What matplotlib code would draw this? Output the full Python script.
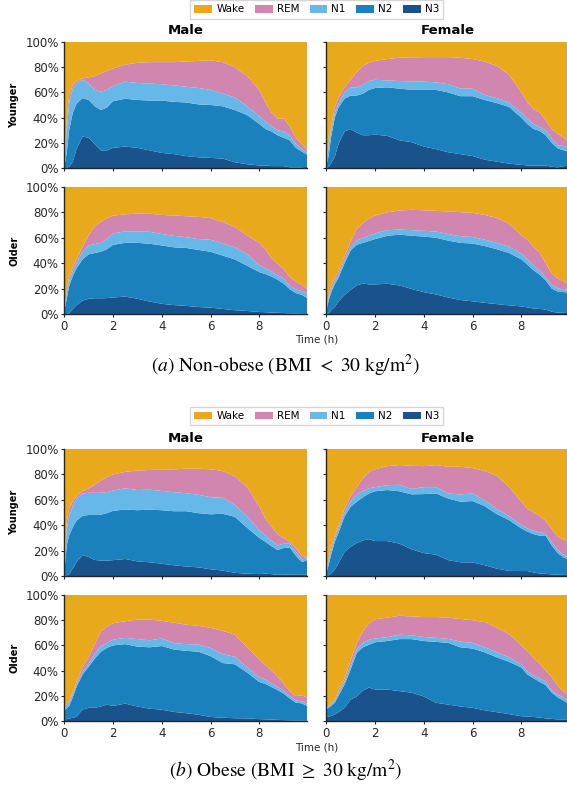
import matplotlib
matplotlib.use("Agg")
import matplotlib.pyplot as plt
from matplotlib.patches import Patch
from matplotlib.ticker import FuncFormatter

# time since lights off (hours)
hours = [0, 0.1, 0.2, 0.35, 0.5, 0.75, 1.0, 1.25, 1.5, 1.75, 2.0, 2.5, 3.0, 3.5, 4.0, 4.5,
         5.0, 5.5, 6.0, 6.5, 7.0, 7.5, 8.0, 8.25, 8.5, 8.75, 9.0, 9.25, 9.5, 9.75, 9.97]

stages = ["N3", "N2", "N1", "REM", "Wake"]
colors = {"Wake": "#E8A91C", "REM": "#D086AE", "N1": "#66B8E8", "N2": "#1B81BD", "N3": "#1A528B"}

# (a) non-obese -- percent of subjects in each stage
a_male_younger = {
    "N3":   [0, 0, 1, 5, 15, 25, 24, 19, 14, 14, 16, 17, 16, 14, 12, 11, 9.5, 8.5, 8, 7.5, 4.5, 3, 2, 2, 1.5, 1.5, 1.5, 0.5, 0.5, 0.5, 1],
    "N2":   [1, 12, 29, 39, 36, 30.5, 30, 30, 32, 34, 37, 38, 38, 39.5, 41.5, 41.5, 42.5, 42, 42, 41.5, 41.5, 39, 33, 29, 27.5, 24.5, 22.5, 21.5, 15.5, 12.5, 9.5],
    "N1":   [2, 18, 22, 19, 16, 14.5, 13, 13, 14.5, 14, 12, 13.5, 13.5, 13.5, 13, 13, 12.5, 13, 12, 10, 10, 7, 6, 6, 4, 4, 5, 4, 3, 2, 1.5],
    "REM":  [2, 8, 6, 3, 2, 1, 5, 11, 14.5, 15, 14, 13.5, 16, 17, 17.5, 18.5, 20, 21.5, 23.5, 25, 24, 24, 21, 15, 11, 9, 10.5, 7, 5, 4, 2],
    "Wake": [95, 62, 42, 34, 31, 29, 28, 27, 25, 23, 21, 18, 16.5, 16, 16, 16, 15.5, 15, 14.5, 16, 20, 27, 38, 48, 56, 61, 60.5, 67, 76, 81, 86],
}
a_female_younger = {
    "N3":   [0, 1, 4, 9, 19, 29, 31, 28, 26, 26, 26.5, 25.5, 22, 20.5, 17, 15, 12.5, 11, 9.5, 6.6, 5, 3.5, 2.5, 2, 2, 2, 2, 1, 0.5, 1.5, 2],
    "N2":   [2, 9, 21, 31, 29, 26, 26.5, 29.5, 33, 36, 37, 38.5, 41, 41.5, 45, 47, 47.5, 46, 47.5, 47.4, 46.5, 45, 37.5, 33, 29, 27.5, 24, 19, 15, 12.5, 10.5],
    "N1":   [1, 8, 5, 4, 3, 5, 6.5, 6.5, 7, 7, 6.5, 5.5, 6, 6.8, 6.5, 6, 6.5, 6, 6, 4, 4, 3.5, 4, 4, 4, 3, 4, 3, 2.5, 3.5, 3],
    "REM":  [2, 2, 3, 4, 5, 4, 6, 12, 15, 14.5, 15, 17, 18.5, 19, 19.5, 20, 21.5, 24.5, 23.5, 26.5, 25.5, 22, 16, 13, 12, 11.5, 8, 8, 9, 6.5, 3.5],
    "Wake": [95, 80, 67, 52, 44, 36, 30, 24, 19, 16.5, 15, 13.5, 12.5, 12.2, 12, 12, 12, 12.5, 13.5, 15.5, 19, 26, 40, 48, 53, 56, 62, 69, 73, 76, 81],
}
a_male_older = {
    "N3":   [0, 0, 0.5, 4, 7, 10.5, 12, 12.4, 12.4, 12.5, 13, 13.7, 12, 9.8, 8, 7, 6.4, 5.5, 5, 4, 3, 2.4, 1.6, 1.4, 1.1, 1, 0.7, 0.5, 0.3, 0.1, 0],
    "N2":   [2, 12, 21.5, 26, 29, 32.5, 35, 35.6, 36.6, 38.5, 41.5, 42.3, 44, 45.5, 46, 45.5, 45.6, 45, 44, 42, 40, 35.6, 31.4, 30.1, 28.4, 26, 23.3, 19, 16.2, 14.9, 12.5],
    "N1":   [1, 5, 4, 4, 4, 6, 7, 7, 7, 8, 9, 9, 9, 9.4, 9, 9, 8.5, 8.5, 9.5, 9.5, 9.5, 9, 5.5, 4.5, 4, 3.5, 4, 2.5, 3, 3, 3.5],
    "REM":  [1, 2, 3, 3, 3, 4, 8, 14, 16.5, 16.5, 14, 13.5, 14, 14.3, 15, 16, 16.5, 17.5, 17, 17, 16, 15, 17.5, 15, 10.5, 9, 7.5, 7, 6, 5, 3.5],
    "Wake": [96, 81, 71, 63, 57, 47, 38, 31, 27.5, 24.5, 22.5, 21.5, 21, 21, 22, 22.5, 23, 23.5, 24.5, 27.5, 31.5, 38, 44, 49, 56, 60.5, 64.5, 71, 74.5, 77, 80.5],
}
a_female_older = {
    "N3":   [0, 0.5, 3, 5.5, 10, 15, 19, 22.5, 24, 23.3, 23.3, 23.8, 22.5, 19.7, 17.2, 15.4, 13, 11, 10, 8.8, 7.8, 6.8, 6, 5.2, 4.3, 4, 3.5, 1.8, 1, 1.3, 1.8],
    "N2":   [2, 10.5, 14, 18, 18.5, 25, 31, 32, 32, 34.2, 35.7, 37.7, 40, 41.9, 43.8, 44.6, 44.8, 45, 45.5, 44.7, 43.2, 41.2, 37, 33.8, 30.2, 27, 23, 18.2, 16.7, 15.9, 15],
    "N1":   [1, 2, 2.5, 2.5, 2.5, 2.5, 3, 3.5, 3.7, 4.2, 4.5, 4.5, 4, 4.4, 4.5, 5, 5.2, 5.2, 5.2, 5, 5, 5, 4.5, 4, 4, 3, 2.5, 3, 2.5, 2.3, 2.2],
    "REM":  [1, 2, 2.5, 2.5, 2.5, 3, 4, 9, 11.9, 13.3, 14, 14, 15, 16, 16.2, 16.2, 17.8, 19, 19, 19.5, 19.7, 18, 14.5, 15.5, 14.5, 14.5, 11, 9, 7.8, 6, 4],
    "Wake": [96, 85, 78, 71.5, 66.5, 54.5, 43, 33, 28.4, 25, 22.5, 20, 18.5, 18, 18.3, 18.8, 19.2, 19.8, 20.3, 22, 24.3, 29, 38, 41.5, 47, 51.5, 60, 68, 72, 74.5, 77],
}

# (b) obese
b_male_younger = {
    "N3":   [0, 0.5, 1.5, 6, 11, 16.5, 15, 12.6, 12.2, 12, 12.5, 13.4, 11.5, 10.8, 9.7, 8.4, 7.5, 6.8, 5.3, 4.3, 2.5, 1.8, 1.5, 1.8, 1.5, 0.9, 1, 1.3, 1.3, 1.3, 1.3],
    "N2":   [3, 23.5, 30.5, 32.5, 32.5, 31, 33, 35.4, 36.1, 37.5, 38.8, 39, 40.3, 41.4, 42.1, 42.6, 43.5, 42.7, 43.3, 44.7, 44.1, 36.2, 28.5, 25.2, 22, 19.6, 21, 21.2, 14.7, 9.7, 11.3],
    "N1":   [2, 13, 15, 16.5, 17.5, 17.5, 17.5, 17.5, 17.2, 16.5, 16, 16.6, 15.9, 15.8, 15.2, 15, 14.2, 14.5, 13.4, 12.6, 9.2, 9, 6, 5, 4.5, 3.5, 3.5, 3, 3, 2, 1.4],
    "REM":  [1, 6, 6, 4, 2, 2, 3.5, 6.5, 9.5, 12, 12.7, 13, 15.3, 15.5, 16.7, 18, 19.3, 20.5, 22, 21.1, 22.6, 23, 19, 13, 11, 9, 4.5, 1.5, 3, 3, 0.5],
    "Wake": [94, 57, 47, 41, 37, 33, 31, 28, 25, 22, 20, 18, 17, 16.5, 16.3, 16, 15.5, 15.5, 16, 17.3, 21.6, 30, 45, 55, 61, 67, 70, 73, 78, 84, 85.5],
}
b_female_younger = {
    "N3":   [0, 0.5, 2, 5, 10, 19, 23, 26, 28, 29, 27.5, 27.5, 25.5, 21, 18, 16.8, 12.5, 10.8, 10.7, 8.5, 5.8, 4, 3.9, 3.9, 2.8, 2, 1.7, 1.3, 1, 0.9, 0.8],
    "N2":   [2, 8.5, 15, 22, 24, 28, 31.5, 32.5, 34, 36, 39.2, 40.2, 41.2, 43.3, 46.5, 48.2, 48.5, 47.7, 48.3, 46.5, 42.9, 40, 33.6, 31.1, 30.2, 29.8, 30.1, 22.7, 17, 13.6, 11.8],
    "N1":   [1, 3, 3, 3, 3, 3, 4.5, 5.5, 5, 4, 3.3, 3.8, 5.1, 4.2, 5.5, 5, 4, 5.7, 6, 4.5, 4, 3.2, 2.8, 2.5, 2.7, 2.6, 2, 2.5, 2.5, 2, 1.8],
    "REM":  [1, 2, 3, 2, 2, 3, 4, 6, 10, 13, 14, 15, 15.6, 18.3, 16.5, 17.3, 21, 21.8, 20, 23.2, 26.1, 22.8, 18.2, 15.5, 14.3, 13.1, 9.7, 10.5, 10.5, 12, 12.6],
    "Wake": [96, 86, 77, 68, 61, 47, 37, 30, 23, 18, 16, 13.5, 12.6, 13.2, 13.5, 12.7, 14, 14, 15, 17.3, 21.2, 30, 41.5, 47, 50, 52.5, 56.5, 63, 69, 71.5, 73],
}
b_male_older = {
    "N3":   [1, 1.5, 2, 2.5, 3.5, 9, 10.5, 10.5, 11.5, 13, 12, 13.8, 11.5, 9.8, 9, 7.2, 6.2, 5, 3.2, 2.6, 2.2, 2.1, 1.5, 1.3, 1.1, 0.9, 0.7, 0.5, 0.4, 0.4, 0.4],
    "N2":   [7, 8.5, 10, 16.5, 23.5, 28, 32.5, 39, 43.5, 45, 48, 47.2, 47.5, 48.7, 50.5, 49.5, 49.5, 50, 48.3, 43.4, 42.8, 36.4, 29.5, 28.2, 25.9, 23.6, 21.1, 17.5, 14.1, 13.6, 11.4],
    "N1":   [1.5, 2, 2.5, 2.5, 2, 2, 2.5, 3.5, 4.5, 4, 4.5, 5, 6, 5.5, 6, 5.1, 5.3, 5.7, 6.5, 7, 6, 4, 3.7, 3.5, 2.8, 2.5, 2.2, 1.7, 1.8, 1.5, 1.9],
    "REM":  [1.5, 1.5, 2, 1.5, 2, 3.5, 5.5, 8, 11.5, 13, 13.1, 13.2, 15.5, 16.5, 14, 16.2, 15.5, 14.8, 16, 18.6, 17.5, 16, 14.3, 11.5, 10.5, 8.5, 5.8, 4, 3.4, 5, 4.7],
    "Wake": [89, 86.5, 83.5, 77, 69, 57.5, 49, 39, 29, 25, 22.4, 20.8, 19.5, 19.5, 20.5, 22, 23.5, 24.5, 26, 28.4, 31.5, 41.5, 51, 55.5, 59.7, 64.5, 70.2, 76.3, 80.3, 79.5, 81.6],
}
b_female_older = {
    "N3":   [3, 3.5, 4, 5.3, 7, 10.5, 17, 19.5, 24, 26.5, 25, 25, 23.7, 22.5, 19.5, 14.5, 13, 11.5, 10.5, 8.5, 7, 5.5, 3.8, 3.5, 3.2, 2.7, 2.1, 1.7, 1.3, 1.3, 1.3],
    "N2":   [6, 7, 8, 9.2, 13, 18.5, 24, 34.5, 34.5, 34, 37.5, 38.5, 41.3, 42.5, 44, 48.3, 49, 47, 47, 46, 43.5, 41.5, 38.7, 33.5, 30.8, 28.3, 26.4, 20.8, 17.4, 14.7, 11.9],
    "N1":   [1, 1, 1.5, 1.5, 2, 2.5, 3, 3, 3.5, 4, 3, 3, 3.5, 3, 3.2, 3.2, 3.2, 4.5, 4.5, 4, 4, 3.5, 2.5, 2.5, 2, 3, 3, 1.8, 2.1, 2.5, 2.1],
    "REM":  [1, 1, 1, 1, 2, 2.5, 4, 5, 9, 13, 15.2, 15.5, 15, 15, 15.8, 16.5, 16.8, 18, 18, 20, 19.5, 18.5, 15, 16, 14, 11.5, 8.5, 10.7, 7.2, 4.5, 4.7],
    "Wake": [89, 87.5, 85.5, 83, 76, 66, 52, 38, 29, 22.5, 19.3, 18, 16.5, 17, 17.5, 17.5, 18, 19, 20, 21.5, 26, 31, 40, 44.5, 50, 54.5, 60, 65, 72, 77, 80],
}

sexes = ["Male", "Female"]
ages = ["Younger", "Older"]
captions = [r"$\mathit{(a)}$ Non-obese (BMI $<$ 30 kg/m$^2$)",
            r"$\mathit{(b)}$ Obese (BMI $\geq$ 30 kg/m$^2$)"]
groups = [[[a_male_younger, a_female_younger], [a_male_older, a_female_older]],
          [[b_male_younger, b_female_younger], [b_male_older, b_female_older]]]

W, H = 567, 791
plt.rcParams["mathtext.fontset"] = "stix"
fig = plt.figure(figsize=(W / 100, H / 100), dpi=100)

ink = "#262626"
col_x = [64.3, 326.3]      # left edge of each column (px)
ax_w = 243.0
# per block: top of row 1, bottom row 1, top row 2, bottom row 2, legend y, title y, xlabel y, caption y
blocks = [
    dict(rows=[(42, 168), (187, 314)], legend=9.5, title=30, xlab=340, cap=366),
    dict(rows=[(449, 576), (595, 721)], legend=416, title=438, xlab=748, cap=771),
]

pct = FuncFormatter(lambda v, _: f"{v:.0f}%")

for b, blk in enumerate(blocks):
    for r, (top, bot) in enumerate(blk["rows"]):
        for c in range(2):
            data = groups[b][r][c]
            ax = fig.add_axes([col_x[c] / W, 1 - bot / H, ax_w / W, (bot - top) / H])
            ax.stackplot(hours, *[data[s] for s in stages],
                         colors=[colors[s] for s in stages], linewidth=0)
            ax.set_xlim(0, hours[-1])
            ax.set_ylim(0, 100)
            ax.set_xticks([0, 2, 4, 6, 8])
            ax.set_yticks([0, 20, 40, 60, 80, 100])
            ax.yaxis.set_major_formatter(pct)
            for sp in ["top", "right"]:
                ax.spines[sp].set_visible(False)
            for sp in ["left", "bottom"]:
                ax.spines[sp].set_color(ink)
                ax.spines[sp].set_linewidth(1.0)
            ax.tick_params(colors=ink, labelsize=8.5, length=2.5, width=0.8, pad=1.5)
            if c == 1:
                ax.tick_params(labelleft=False)
            if r == 0:
                ax.tick_params(labelbottom=False)
            if r == 0:
                fig.text((col_x[c] + ax_w / 2) / W, 1 - blk["title"] / H, sexes[c],
                         ha="center", va="center", fontsize=9.5, fontweight="bold", color="black")
        fig.text(14.5 / W, 1 - (top + bot) / 2 / H, ages[r], rotation=90,
                 ha="center", va="center", fontsize=7, fontweight="bold", color="black")

    mid = (col_x[0] + col_x[1] + ax_w) / 2 / W
    handles = [Patch(facecolor=colors[s], edgecolor="none", label=s) for s in stages[::-1]]
    fig.legend(handles=handles, loc="center", bbox_to_anchor=(mid, 1 - blk["legend"] / H),
               ncol=5, fontsize=7.5, frameon=True, handlelength=1.7, handletextpad=0.4,
               columnspacing=1.0, borderpad=0.4, edgecolor="#cccccc", fancybox=False)
    fig.text(mid, 1 - blk["xlab"] / H, "Time (h)", ha="center", va="center", fontsize=7.5, color=ink)
    fig.text(0.503, 1 - blk["cap"] / H, captions[b], ha="center", va="center",
             fontsize=14, family="STIXGeneral")

fig.savefig("out.png", dpi=100)
